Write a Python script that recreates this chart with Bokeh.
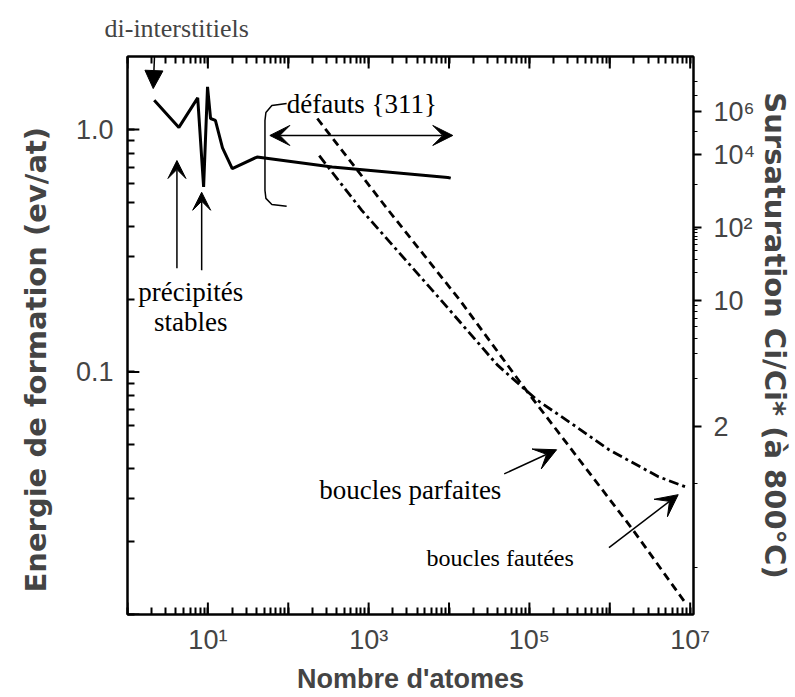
import math
from bokeh.plotting import figure
from bokeh.models import (LogAxis, FixedTicker, CustomJSTickFormatter, Label,
                          Arrow, VeeHead, NormalHead, Range1d, Title)
from bokeh.embed import file_html
from bokeh.resources import INLINE

# ---------------- data ----------------
# formation energy of clusters (solid line)
energie_x = [2.15, 4.36, 7.47, 8.85, 9.9, 10.8, 12.4, 15.2, 20.1, 40.9, 352, 9660, 10500]
energie_y = [1.32, 1.02, 1.35, 0.58, 1.50, 1.11, 1.09, 0.84, 0.69, 0.77, 0.70, 0.634, 0.63]
# faulted loops (dashed)
fautees_x = [230, 523, 1766, 13600, 81000, 1.93e6, 8.65e6]
fautees_y = [1.11, 0.78, 0.464, 0.198, 0.0885, 0.0224, 0.0112]
# perfect loops (dash-dot)
parfaites_x = [243, 822, 7930, 39800, 124000, 384000, 977000, 4.03e6, 9.42e6]
parfaites_y = [0.78, 0.464, 0.198, 0.107, 0.0767, 0.0594, 0.0478, 0.037, 0.0333]

# axis ticks
x_major = [10 ** k for k in range(0, 8)]
x_labels = ["", "10\u00b9", "", "10\u00b3", "", "10\u2075", "", "10\u2077"]   # by exponent
x_minor = [m * 10 ** k for k in range(0, 7) for m in range(2, 10)]
y_major = [0.01, 0.1, 1.0]
y_labels = ["", "0.1", "1.0"]
y_minor = [m * 10 ** k for k in (-2, -1, 0) for m in range(2, 10) if m * 10 ** k < 2.0]
kT = 0.0856  # eV, relation E = kT ln(S)
sursat_values = [1e6, 1e4, 1e2, 10, 2]
sursat_labels = ["10\u2076", "10\u2074", "10\u00b2", "10", "2"]
sursat_minor = [1.2, 1.5, 3, 4, 5, 6, 7, 8, 9, 20, 30, 40, 50, 60, 70, 80, 90,
                1e3, 1e5, 1e7, 1e8]

SANS = "Liberation Sans"
WIDE = "DejaVu Sans"
SERIF = "Liberation Serif"

X0, X1 = 1, 1.1e7
Y0, Y1 = 0.01, 2.0

p = figure(width=795, height=697, x_axis_type="log", y_axis_type="log",
           x_range=Range1d(X0, X1), y_range=Range1d(Y0, Y1),
           output_backend="svg", toolbar_location=None,
           min_border_left=126, min_border_right=97, min_border_top=56,
           min_border_bottom=83)
p.grid.visible = False
p.outline_line_color = "black"
p.outline_line_width = 2
p.background_fill_color = "white"
p.border_fill_color = "white"

# title used as the "di-interstitiels" annotation above the frame
p.title.text = "di-interstitiels"
p.title.align = "left"
p.title.vertical_align = "top"
p.title.offset = -23
p.title.standoff = 24
p.title.text_font = SERIF
p.title.text_font_style = "normal"
p.title.text_font_size = "26px"

x_all = sorted(x_major + x_minor)
y_all = sorted(y_major + y_minor)

xfmt = CustomJSTickFormatter(args=dict(labs=x_labels), code="""
const e = Math.log10(tick);
const r = Math.round(e);
if (Math.abs(e - r) > 1e-6) return '';
return (r >= 0 && r < labs.length) ? labs[r] : '';
""")
yfmt = CustomJSTickFormatter(args=dict(vals=y_major, labs=y_labels), code="""
let b = 0, d = 1e9;
for (let i = 0; i < vals.length; i++) {
  const dd = Math.abs(Math.log(tick) - Math.log(vals[i]));
  if (dd < d) { d = dd; b = i; }
}
return d < 0.01 ? labs[b] : '';
""")

xa = p.xaxis[0]
xa.ticker = FixedTicker(ticks=x_all)
xa.formatter = xfmt
xa.axis_label = "Nombre d'atomes"

ya = p.yaxis[0]
ya.ticker = FixedTicker(ticks=y_all)
ya.formatter = yfmt

for ax in (xa, ya):
    ax.major_tick_in = 7
    ax.major_tick_out = 0
    ax.minor_tick_in = 0
    ax.minor_tick_out = 0
    ax.axis_line_width = 2
    ax.major_tick_line_width = 2
    ax.major_label_text_font = SANS
    ax.major_label_text_font_size = "27px"
    ax.axis_label_text_font = SANS
    ax.axis_label_text_font_style = "bold"
    ax.axis_label_text_font_size = "27px"

xa.major_label_standoff = 10
xa.axis_label_standoff = 6
ya.major_label_standoff = 14

# left title, placed lower than centre as in the original
p.add_layout(Title(text="Energie de formation (ev/at)", align="left", offset=22,
                   vertical_align="top", standoff=36, text_font=WIDE,
                   text_font_style="bold", text_font_size="29px"), "left")

top = LogAxis(ticker=FixedTicker(ticks=x_all),
              formatter=CustomJSTickFormatter(code="return '';"),
              major_tick_in=7, major_tick_out=0, minor_tick_in=0, minor_tick_out=0,
              axis_line_width=2, major_tick_line_width=2,
              major_label_text_font_size="1px", major_label_standoff=0)
p.add_layout(top, "above")

sursat_E = [kT * math.log(s) for s in sursat_values]
sursat_minor_E = [kT * math.log(s) for s in sursat_minor]
right = LogAxis(ticker=FixedTicker(ticks=sursat_E, minor_ticks=sursat_minor_E),
                formatter=CustomJSTickFormatter(args=dict(vals=sursat_E, labs=sursat_labels), code="""
let b = 0, d = 1e9;
for (let i = 0; i < vals.length; i++) {
  const dd = Math.abs(tick - vals[i]);
  if (dd < d) { d = dd; b = i; }
}
return labs[b];
"""),
                major_tick_in=0, major_tick_out=8, minor_tick_in=0, minor_tick_out=4,
                axis_line_width=2, major_tick_line_width=2, major_label_standoff=12,
                major_label_text_font=SANS, major_label_text_font_size="27px",
                axis_label="Sursaturation Ci/Ci* (\u00e0 800\u00b0C)",
                axis_label_text_font=WIDE, axis_label_text_font_style="bold",
                axis_label_text_font_size="29px", axis_label_standoff=0)
p.add_layout(right, "right")

# longer inward ticks (12 px) at the decades
fx = 10 ** (12 / 81.3)
fy = 10 ** (12 / 243.0)
p.segment(x0=x_major, y0=[Y0] * len(x_major), x1=x_major, y1=[Y0 * fy] * len(x_major),
          line_color="black", line_width=2)
p.segment(x0=x_major, y0=[Y1] * len(x_major), x1=x_major, y1=[Y1 / fy] * len(x_major),
          line_color="black", line_width=2)
p.segment(x0=[X0] * len(y_major), y0=y_major, x1=[X0 * fx] * len(y_major), y1=y_major,
          line_color="black", line_width=2)

# ---------------- curves ----------------
p.line(energie_x, energie_y, line_color="black", line_width=3)
p.line(fautees_x, fautees_y, line_color="black", line_width=2.8, line_dash="8 5")
p.line(parfaites_x, parfaites_y, line_color="black", line_width=2.8, line_dash="10 4 3 4")

# ---------------- annotations ----------------
def lab(x, y, t, size="27px"):
    p.add_layout(Label(x=x, y=y, text=t, text_font=SERIF, text_font_size=size,
                       text_align="center", text_baseline="middle", text_color="black"))

def head(size):
    return VeeHead(size=size, fill_color="black", line_color="black")

def arr(x0, y0, x1, y1, size=16, both=False, w=1.5, normal=False):
    h = NormalHead(size=size, fill_color="black", line_color="black") if normal else head(size)
    kw = {"start": head(size)} if both else {}
    p.add_layout(Arrow(end=h, x_start=x0, y_start=y0, x_end=x1, y_end=y1,
                       line_width=w, line_color="black", **kw))

arr(2.21, 2.37, 2.09, 1.475, size=18, normal=True)

lab(822, 1.28, "d\u00e9fauts {311}")
arr(59, 0.945, 11140, 0.945, size=20, both=True)
p.line([95.5, 62.5, 52.7, 51.3, 51.3, 52.7, 62.5, 95.5],
       [1.28, 1.255, 1.175, 1.089, 0.561, 0.520, 0.491, 0.482],
       line_color="black", line_width=1.5)

lab(6.12, 0.213, "pr\u00e9cipit\u00e9s")
lab(6.12, 0.1606, "stables")
arr(4.12, 0.268, 4.12, 0.745, size=18)
arr(8.37, 0.263, 8.37, 0.551, size=18)

lab(3296, 0.0327, "boucles parfaites")
arr(48550, 0.038, 2.18e5, 0.0478, size=22)

lab(43350, 0.01717, "boucles faut\u00e9es", "24px")
arr(9.77e5, 0.01887, 7.1e6, 0.0312, size=22)

open("out.html", "w").write(file_html(p, INLINE))
